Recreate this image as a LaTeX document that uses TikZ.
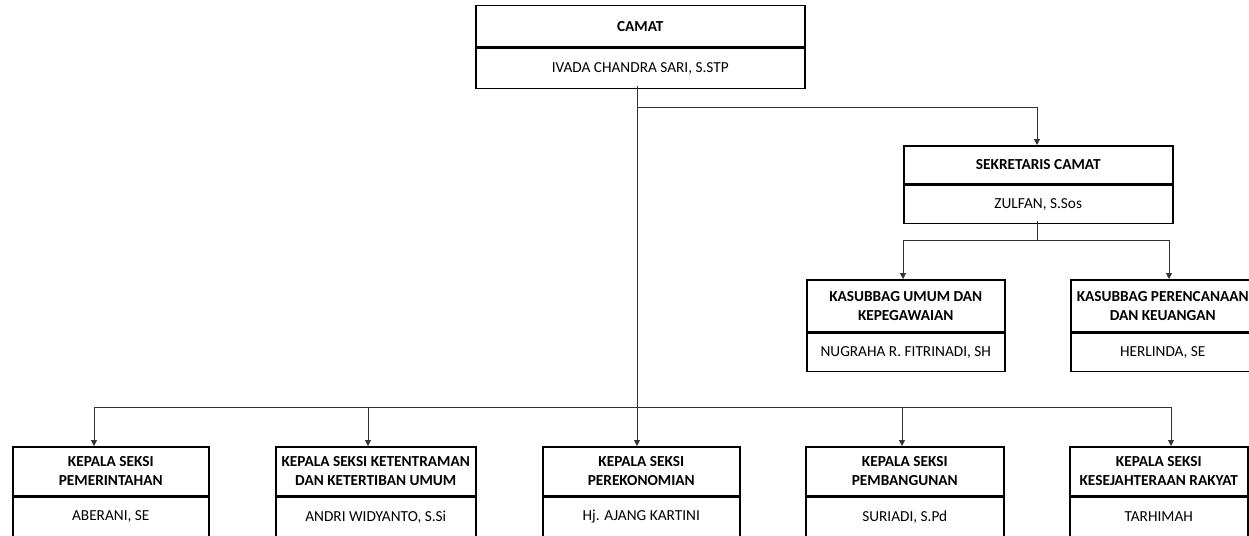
\documentclass[tikz,border=0pt]{standalone}
\usepackage{fontspec}
\setmainfont{Carlito}
\usetikzlibrary{arrows.meta}
\begin{document}
\begin{tikzpicture}[x=1pt,y=-1pt,
  hdr/.style={draw, line width=1.5pt, inner sep=0pt, align=center, anchor=north west,
    font=\fontsize{15.3}{19}\selectfont\bfseries},
  nm/.style={draw, line width=1.5pt, inner sep=0pt, align=center, anchor=north west,
    font=\fontsize{15.3}{19}\selectfont},
  conn/.style={line width=0.8pt, draw=black!80},
  arr/.style={conn, -{Triangle[length=6pt,width=6pt]}}]
\clip (0,0) rectangle (1249,535);
\fill[white] (0,0) rectangle (1249,535);
% CAMAT
\node[hdr, minimum width=329pt, minimum height=41pt] (camat) at (475,5) {CAMAT};
\node[nm, minimum width=329pt, minimum height=40pt] (camatN) at (camat.south west) {IVADA CHANDRA SARI, S.STP};
% SEKRETARIS
\node[hdr, minimum width=269pt, minimum height=38pt] (sek) at (903,145) {SEKRETARIS CAMAT};
\node[nm, minimum width=269pt, minimum height=38pt] (sekN) at (sek.south west) {ZULFAN, S.Sos};
% KASUBBAG
\node[hdr, minimum width=198pt, minimum height=52pt] (umum) at (806,279) {KASUBBAG UMUM DAN\\KEPEGAWAIAN};
\node[nm, minimum width=198pt, minimum height=38pt] (umumN) at (umum.south west) {NUGRAHA R. FITRINADI, SH};
\node[hdr, minimum width=184pt, minimum height=52pt] (renc) at (1070,279) {KASUBBAG PERENCANAAN\\DAN KEUANGAN};
\node[nm, minimum width=184pt, minimum height=38pt] (rencN) at (renc.south west) {HERLINDA, SE};
% KEPALA SEKSI
\node[hdr, minimum width=196pt, minimum height=49pt] (pem) at (12,446) {KEPALA SEKSI\\PEMERINTAHAN};
\node[nm, minimum width=196pt, minimum height=39pt] (pemN) at (pem.south west) {ABERANI, SE};
\node[hdr, minimum width=200pt, minimum height=49pt] (tra) at (275,446) {KEPALA SEKSI KETENTRAMAN\\DAN KETERTIBAN UMUM};
\node[nm, minimum width=200pt, minimum height=39pt] (traN) at (tra.south west) {ANDRI WIDYANTO, S.Si};
\node[hdr, minimum width=197pt, minimum height=49pt] (eko) at (542,446) {KEPALA SEKSI\\PEREKONOMIAN};
\node[nm, minimum width=197pt, minimum height=39pt] (ekoN) at (eko.south west) {Hj. AJANG KARTINI};
\node[hdr, minimum width=198pt, minimum height=49pt] (bang) at (805,446) {KEPALA SEKSI\\PEMBANGUNAN};
\node[nm, minimum width=198pt, minimum height=39pt] (bangN) at (bang.south west) {SURIADI, S.Pd};
\node[hdr, minimum width=178pt, minimum height=49pt] (kes) at (1069,446) {KEPALA SEKSI\\KESEJAHTERAAN RAKYAT};
\node[nm, minimum width=178pt, minimum height=39pt] (kesN) at (kes.south west) {TARHIMAH};
% connectors
\coordinate (top) at (637,86);
\coordinate (j1) at (637,107);
\coordinate (j2) at (1037,107);
\coordinate (bus) at (637,407);
\coordinate (busL) at (94,407);
\coordinate (busR) at (1171,407);
\coordinate (b2) at (368,407);
\coordinate (b4) at (902,407);
\draw[conn] (top) -- (bus);
\draw[conn] (j1) -- (j2);
\draw[arr] (j2) -- (j2 |- sek.north);
\draw[conn] (busL) -- (busR);
\draw[arr] (busL) -- (busL |- pem.north);
\draw[arr] (b2) -- (b2 |- tra.north);
\draw[arr] (bus) -- (bus |- eko.north);
\draw[arr] (b4) -- (b4 |- bang.north);
\draw[arr] (busR) -- (busR |- kes.north);
\coordinate (s0) at (1037,221);
\coordinate (s1) at (1037,240);
\coordinate (sL) at (903,240);
\coordinate (sR) at (1169,240);
\draw[conn] (s0) -- (s1);
\draw[conn] (sL) -- (sR);
\draw[arr] (sL) -- (sL |- umum.north);
\draw[arr] (sR) -- (sR |- renc.north);
\end{tikzpicture}
\end{document}
